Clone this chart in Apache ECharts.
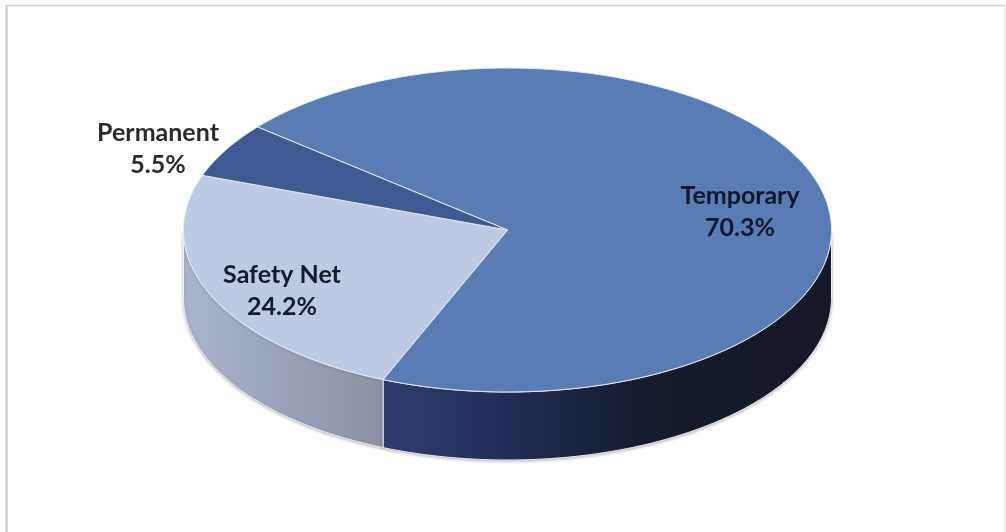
<!DOCTYPE html>
<html>
<head>
<meta charset="utf-8">
<style>html,body{margin:0;padding:0;background:#fff}#c{width:1006px;height:532px}</style>
<script src="https://cdn.jsdelivr.net/npm/echarts@6/dist/echarts.min.js"></script>
</head>
<body>
<div id="c"></div>
<script>
var categories = ['Temporary', 'Safety Net', 'Permanent'];
var shares = [70.3, 24.2, 5.5];

var topColors = ['#5a7cb5', '#bdcae4', '#3f5a92'];
var labelColors = ['#10172c', '#141a2a', '#2b2b2e'];
var labelAnchors = [[740, 212], [282, 291], [158, 149]];
var sideStops = [
  [[0, '#2c3d6e'], [0.25, '#232f58'], [0.42, '#1b2340'], [0.6, '#161b2d'], [1, '#141826']],
  [[0, '#aab4cd'], [1, '#8c90a4']],
  null
];
var startAngle = 309.5;
var cx = 507.5, cy = 230, rx = 324, ry = 162, depth = 68;

function pt(deg, dy) {
  var a = deg * Math.PI / 180;
  return [cx + rx * Math.sin(a), cy - ry * Math.cos(a) + (dy || 0)];
}
function arc(a0, a1, dy) {
  var out = [], n = Math.max(2, Math.ceil((a1 - a0) * 2));
  for (var i = 0; i <= n; i++) out.push(pt(a0 + (a1 - a0) * i / n, dy));
  return out;
}
function frontRange(a0, a1) {
  // overlap of [a0,a1] (mod 360) with the visible front half, 90..270
  var ranges = [];
  [-360, 0, 360].forEach(function (k) {
    var s = Math.max(a0 + k, 90), e = Math.min(a1 + k, 270);
    if (e > s) ranges.push([s, e]);
  });
  return ranges;
}
var total = shares.reduce(function (s, v) { return s + v; }, 0);

function renderItem(params, api) {
  var i = params.dataIndex, v = api.value(0), before = 0;
  for (var k = 0; k < i; k++) before += shares[k];
  var a0 = startAngle + before / total * 360;
  var a1 = a0 + v / total * 360;
  var children = [];
  frontRange(a0, a1).forEach(function (r) {
    var top = arc(r[0], r[1], 0), bottom = arc(r[0], r[1], depth).reverse();
    var xa = top[0][0], xb = top[top.length - 1][0];
    children.push({
      type: 'polygon',
      shape: { points: top.concat(bottom) },
      style: {
        fill: new echarts.graphic.LinearGradient(
          Math.min(xa, xb), 0, Math.max(xa, xb), 0,
          sideStops[i].map(function (s) { return { offset: s[0], color: s[1] }; }), true),
        stroke: '#eef0f5', lineWidth: 1,
        shadowColor: 'rgba(60,60,80,0.35)', shadowBlur: 3, shadowOffsetY: 1
      }
    });
  });
  children.push({
    type: 'polygon',
    shape: { points: [[cx, cy]].concat(arc(a0, a1, 0)) },
    style: { fill: topColors[i], stroke: '#e8ecf4', lineWidth: 1 },
    z2: 5
  });
  children.push({
    type: 'text',
    z2: 10,
    style: {
      x: labelAnchors[i][0], y: labelAnchors[i][1],
      text: api.value(1) + '\n' + v.toFixed(1) + '%',
      fill: labelColors[i],
      font: 'bold 25px Lato, "Open Sans", sans-serif',
      lineHeight: 32,
      align: 'center', verticalAlign: 'middle'
    }
  });
  return { type: 'group', children: children };
}

var chart = echarts.init(document.getElementById('c'), null, { renderer: 'canvas' });
chart.setOption({
  animation: false,
  backgroundColor: '#ffffff',
  graphic: [
    { type: 'line', silent: true, shape: { x1: 6.5, y1: 5, x2: 6.5, y2: 532 },
      style: { stroke: '#c2c2c6', lineWidth: 2 } },
    { type: 'line', silent: true, shape: { x1: 6, y1: 5.5, x2: 1005, y2: 5.5 },
      style: { stroke: '#d6d6d8', lineWidth: 1.5 } },
    { type: 'line', silent: true, shape: { x1: 1005, y1: 5, x2: 1005, y2: 532 },
      style: { stroke: '#e2e2e4', lineWidth: 1.5 } }
  ],
  series: [{
    type: 'custom',
    coordinateSystem: 'none',
    renderItem: renderItem,
    dimensions: ['share', 'name'],
    data: categories.map(function (c, i) { return [shares[i], c]; }),
    silent: true
  }]
});
</script>
</body>
</html>
